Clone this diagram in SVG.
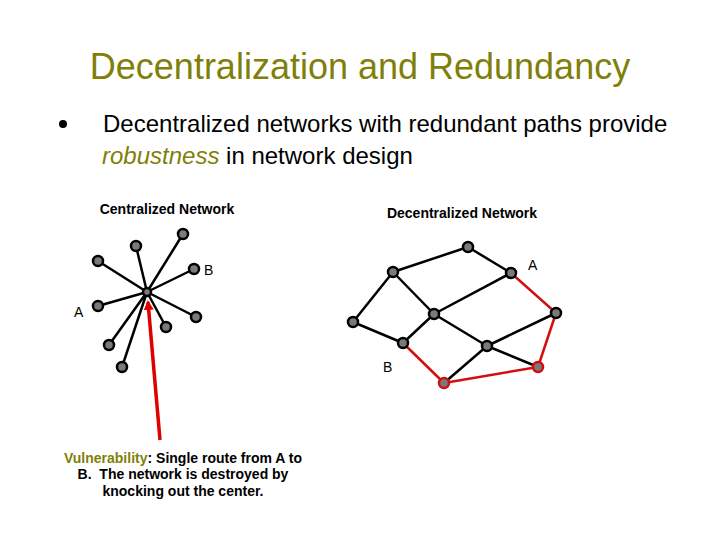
<svg xmlns="http://www.w3.org/2000/svg" width="720" height="540" viewBox="0 0 720 540">
<defs>
<style>
.t{font-family:"Liberation Sans",Arial,sans-serif;}
.title{font-size:36px;fill:#7f7f0a;}
.body{font-size:24px;fill:#000;}
.hd{font-size:14px;font-weight:bold;fill:#000;}
.lbl{font-size:14px;fill:#000;}
.e{stroke:#000;stroke-width:2.5;fill:none;}
.r{stroke:#d01010;stroke-width:2.5;fill:none;}
.n{fill:#7a7a7a;stroke:#000;stroke-width:2.5;}
.nr{fill:#7a7a7a;stroke:#d01010;stroke-width:2.5;}
</style>
<marker id="ah" markerWidth="10" markerHeight="10" refX="8" refY="5" orient="auto" markerUnits="userSpaceOnUse">
<path d="M0,0 L10,5 L0,10 Z" fill="#e00000"/>
</marker>
</defs>
<rect width="720" height="540" fill="#fff"/>
<text class="t title" x="360" y="79" text-anchor="middle">Decentralization and Redundancy</text>
<circle cx="63" cy="124" r="4" fill="#000"/>
<text class="t body" x="103" y="132">Decentralized networks with redundant paths provide</text>
<text class="t body" x="102" y="164"><tspan font-style="italic" fill="#7f7f0a">robustness</tspan> in network design</text>
<text class="t hd" x="167" y="214" text-anchor="middle">Centralized Network</text>
<text class="t hd" x="462" y="218" text-anchor="middle">Decentralized Network</text>

<g id="connectors">
<line class="e" x1="147" y1="292" x2="183" y2="234"/>
<line class="e" x1="147" y1="292" x2="136" y2="246"/>
<line class="e" x1="147" y1="292" x2="98" y2="261"/>
<line class="e" x1="147" y1="292" x2="194" y2="269"/>
<line class="e" x1="147" y1="292" x2="98" y2="306"/>
<line class="e" x1="147" y1="292" x2="196" y2="317"/>
<line class="e" x1="147" y1="292" x2="166" y2="327"/>
<line class="e" x1="147" y1="292" x2="109" y2="345"/>
<line class="e" x1="147" y1="292" x2="122" y2="367"/>
<line x1="160" y1="440" x2="148" y2="302" stroke="#e00000" stroke-width="3.5" marker-end="url(#ah)"/>

<line class="e" x1="393" y1="272" x2="468" y2="247"/>
<line class="e" x1="468" y1="247" x2="511" y2="273"/>
<line class="e" x1="393" y1="272" x2="353" y2="322"/>
<line class="e" x1="393" y1="272" x2="434" y2="314"/>
<line class="e" x1="353" y1="322" x2="403" y2="343"/>
<line class="e" x1="403" y1="343" x2="434" y2="314"/>
<line class="e" x1="434" y1="314" x2="511" y2="273"/>
<line class="e" x1="434" y1="314" x2="487" y2="346"/>
<line class="e" x1="487" y1="346" x2="556" y2="313"/>
<line class="e" x1="487" y1="346" x2="538" y2="367"/>
<line class="e" x1="487" y1="346" x2="444" y2="383"/>
<line class="r" x1="511" y1="273" x2="556" y2="313"/>
<line class="r" x1="556" y1="313" x2="538" y2="367"/>
<line class="r" x1="538" y1="367" x2="444" y2="383"/>
<line class="r" x1="444" y1="383" x2="403" y2="343"/>
</g>

<g id="c-hub"><circle class="n" cx="147" cy="292" r="4" fill="#222"/></g>
<g id="c1"><circle class="n" cx="183" cy="234" r="5"/></g>
<g id="c2"><circle class="n" cx="136" cy="246" r="5"/></g>
<g id="c3"><circle class="n" cx="98" cy="261" r="5"/></g>
<g id="c-b"><circle class="n" cx="194" cy="269" r="5"/><text class="t lbl" x="204" y="275">B</text></g>
<g id="c-a"><circle class="n" cx="98" cy="306" r="5"/><text class="t lbl" x="74" y="317">A</text></g>
<g id="c6"><circle class="n" cx="196" cy="317" r="5"/></g>
<g id="c7"><circle class="n" cx="166" cy="327" r="5"/></g>
<g id="c8"><circle class="n" cx="109" cy="345" r="5"/></g>
<g id="c9"><circle class="n" cx="122" cy="367" r="5"/></g>

<g id="d1"><circle class="n" cx="468" cy="247" r="5"/></g>
<g id="d2"><circle class="n" cx="393" cy="272" r="5"/></g>
<g id="d-a"><circle class="n" cx="511" cy="273" r="5"/><text class="t lbl" x="528" y="270">A</text></g>
<g id="d4"><circle class="n" cx="434" cy="314" r="5"/></g>
<g id="d5"><circle class="n" cx="556" cy="313" r="5"/></g>
<g id="d6"><circle class="n" cx="353" cy="322" r="5"/></g>
<g id="d-b"><circle class="n" cx="403" cy="343" r="5"/><text class="t lbl" x="383" y="372">B</text></g>
<g id="d8"><circle class="n" cx="487" cy="346" r="5"/></g>
<g id="d9"><circle class="nr" cx="538" cy="367" r="5"/></g>
<g id="d10"><circle class="nr" cx="444" cy="383" r="5"/></g>

<text class="t hd" x="183" y="463" text-anchor="middle"><tspan fill="#7f7f0a">Vulnerability</tspan>: Single route from A to</text>
<text class="t hd" x="183" y="479" text-anchor="middle">B.&#160; The network is destroyed by</text>
<text class="t hd" x="183" y="496" text-anchor="middle">knocking out the center.</text>
</svg>
